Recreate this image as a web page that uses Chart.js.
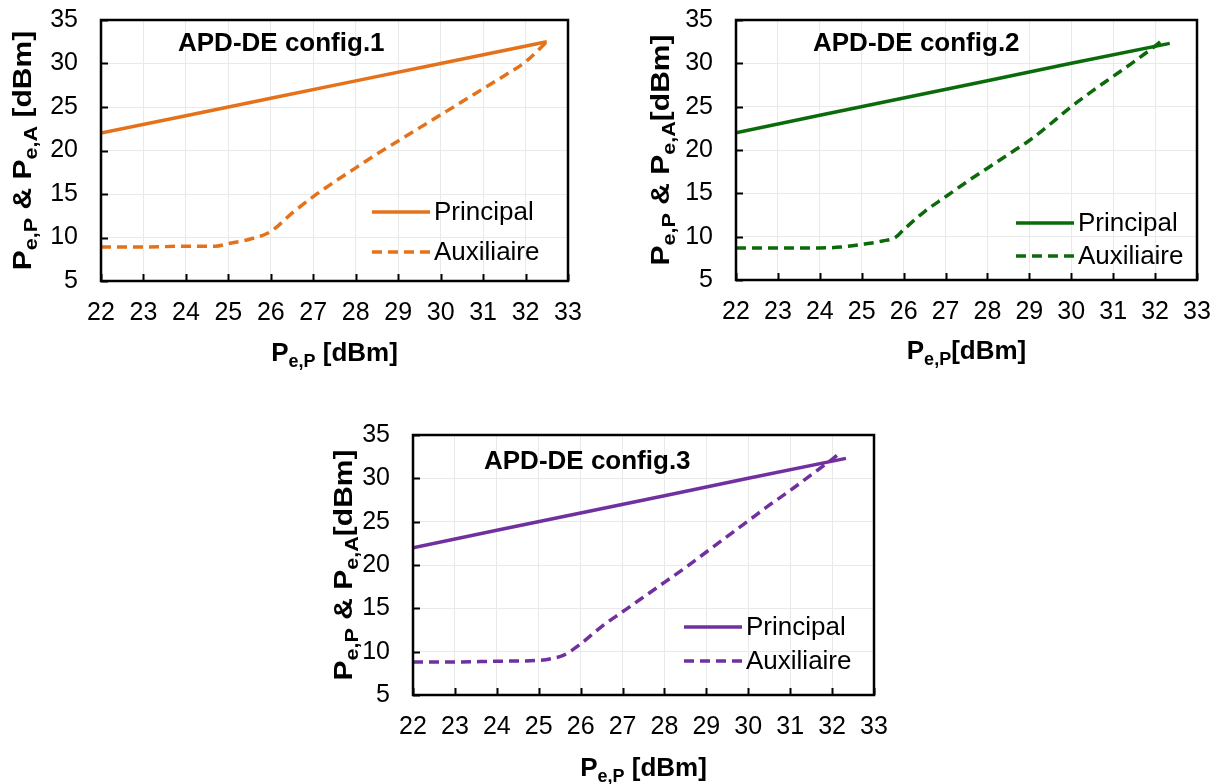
<!DOCTYPE html>
<html>
<head>
<meta charset="utf-8">
<script src="https://cdn.jsdelivr.net/npm/chart.js@4.4.0/dist/chart.umd.min.js"></script>
<style>
  body { margin: 0; background: #fff; }
  #wrap { position: relative; width: 1220px; height: 784px; }
  canvas { position: absolute; }
</style>
</head>
<body>
<div id="wrap">
  <canvas id="c1" width="610" height="380" style="left:0px;top:0px"></canvas>
  <canvas id="c2" width="600" height="380" style="left:620px;top:0px"></canvas>
  <canvas id="c3" width="600" height="384" style="left:310px;top:400px"></canvas>
</div>
<script>
// tick values shared by the three plots
const xTicks = [22, 23, 24, 25, 26, 27, 28, 29, 30, 31, 32, 33];
const yTicks = [5, 10, 15, 20, 25, 30, 35];
const seriesNames = ['Principal', 'Auxiliaire'];
const titles = ['APD-DE config.1', 'APD-DE config.2', 'APD-DE config.3'];

// config.1
const princX1 = [22, 24, 26, 28, 30, 32.5];
const princY1 = [22, 24, 26, 28, 30, 32.5];
const auxX1 = [22, 23, 24, 24.7, 25, 25.5, 26, 26.5, 27, 27.5, 28, 28.5, 29, 29.5, 30, 30.5, 31, 31.5, 32, 32.5];
const auxY1 = [8.9, 8.9, 9.0, 9.0, 9.3, 9.8, 10.7, 12.8, 14.7, 16.4, 18.0, 19.6, 21.1, 22.6, 24.1, 25.6, 27.1, 28.6, 30.2, 32.5];

// config.2
const princX2 = [22, 24, 26, 28, 30, 32.35];
const princY2 = [22, 24, 26, 28, 30, 32.3];
const auxX2 = [22, 23, 24, 24.5, 25, 25.5, 25.8, 26, 26.5, 27, 27.5, 28, 28.5, 29, 29.5, 30, 30.5, 31, 31.5, 32, 32.2];
const auxY2 = [8.7, 8.7, 8.7, 8.8, 9.1, 9.5, 9.9, 10.8, 12.9, 14.6, 16.3, 17.9, 19.5, 21.1, 23.0, 25.0, 26.8, 28.5, 30.2, 32.0, 32.8];

// config.3
const princX3 = [22, 24, 26, 28, 30, 32.33];
const princY3 = [22, 24, 26, 28, 30, 32.3];
const auxX3 = [22, 23, 24, 25, 25.3, 25.6, 26, 26.5, 27, 27.5, 28, 28.5, 29, 29.5, 30, 30.5, 31, 31.5, 32, 32.2];
const auxY3 = [8.8, 8.8, 8.9, 9.0, 9.2, 9.6, 10.9, 12.9, 14.6, 16.3, 18.0, 19.7, 21.5, 23.3, 25.1, 26.9, 28.6, 30.4, 32.2, 33.0];

const FONT = '"Liberation Sans", Arial, sans-serif';

function pts(xs, ys) {
  return xs.map((x, i) => ({ x: x, y: ys[i] }));
}

// text with subscripts, parts = [[text, isSub], ...]
function drawRich(ctx, parts, x, y, size, subSize) {
  let w = 0;
  parts.forEach(p => {
    ctx.font = 'bold ' + (p[1] ? subSize : size) + 'px ' + FONT;
    w += ctx.measureText(p[0]).width;
  });
  let cx = x - w / 2;
  ctx.textAlign = 'left';
  ctx.textBaseline = 'alphabetic';
  parts.forEach(p => {
    ctx.font = 'bold ' + (p[1] ? subSize : size) + 'px ' + FONT;
    ctx.fillText(p[0], cx, y + (p[1] ? 6 : 0));
    cx += ctx.measureText(p[0]).width;
  });
}

const decor = {
  id: 'decor',
  afterDatasetsDraw(chart, args, o) {
    const ctx = chart.ctx;
    const a = chart.chartArea;
    const xs = chart.scales.x, ys = chart.scales.y;
    ctx.save();
    ctx.fillStyle = '#000';
    ctx.strokeStyle = '#000';

    // inner tick marks
    ctx.lineWidth = 2;
    ctx.beginPath();
    xTicks.forEach(v => {
      const px = Math.round(xs.getPixelForValue(v)) + 0.5;
      ctx.moveTo(px, a.bottom);
      ctx.lineTo(px, a.bottom - 7);
    });
    yTicks.forEach(v => {
      const py = Math.round(ys.getPixelForValue(v)) + 0.5;
      ctx.moveTo(a.left, py);
      ctx.lineTo(a.left + 7, py);
    });
    ctx.stroke();

    // frame
    ctx.lineWidth = 2.5;
    ctx.strokeRect(a.left, a.top, a.right - a.left, a.bottom - a.top);

    // title inside the plot
    ctx.font = 'bold 26px ' + FONT;
    ctx.textAlign = 'left';
    ctx.textBaseline = 'alphabetic';
    ctx.fillText(o.title, a.left + o.titleDx, a.top + o.titleDy);

    // legend
    const ds = chart.data.datasets;
    ds.forEach((d, i) => {
      const y = a.bottom - o.legRows[i];
      const x0 = a.right - o.legDx;
      ctx.strokeStyle = d.borderColor;
      ctx.lineWidth = 3.5;
      ctx.setLineDash(d.borderDash || []);
      ctx.beginPath();
      ctx.moveTo(x0, y);
      ctx.lineTo(x0 + 58, y);
      ctx.stroke();
      ctx.setLineDash([]);
      ctx.fillStyle = '#000';
      ctx.font = '26px ' + FONT;
      ctx.textBaseline = 'middle';
      ctx.fillText(d.label, x0 + 62, y + 1);
    });

    // axis titles
    ctx.fillStyle = '#000';
    drawRich(ctx, o.xTitle, (a.left + a.right) / 2, o.xTitleY, 26, 18);
    ctx.translate(a.left - o.yTitleDx, (a.top + a.bottom) / 2);
    ctx.rotate(-Math.PI / 2);
    ctx.scale(1.2, 1);
    drawRich(ctx, o.yTitle, 0, 9, 25, 18);
    ctx.restore();
  }
};

function makeChart(id, color, px, py, ax, ay, box, deco) {
  return new Chart(document.getElementById(id), {
    type: 'line',
    data: {
      datasets: [
        {
          label: seriesNames[0],
          data: pts(px, py),
          borderColor: color,
          borderWidth: 3.5,
          pointRadius: 0,
          tension: 0
        },
        {
          label: seriesNames[1],
          data: pts(ax, ay),
          borderColor: color,
          borderWidth: 3.5,
          borderDash: [10, 6],
          pointRadius: 0,
          cubicInterpolationMode: 'monotone'
        }
      ]
    },
    options: {
      responsive: false,
      animation: false,
      devicePixelRatio: 1,
      layout: { padding: { left: 0, top: box.top, right: box.right, bottom: 0 } },
      plugins: {
        legend: { display: false },
        tooltip: { enabled: false },
        decor: deco
      },
      scales: {
        x: {
          type: 'linear',
          min: 22, max: 33,
          afterBuildTicks: s => { s.ticks = xTicks.map(v => ({ value: v })); },
          afterFit: s => { s.height = box.xh; s.paddingLeft = 0; s.paddingRight = 0; },
          grid: { color: '#e9e9e9', lineWidth: 1, drawTicks: false },
          border: { display: false },
          ticks: { color: '#000', font: { family: FONT, size: 25 }, padding: 17, maxRotation: 0, autoSkip: false }
        },
        y: {
          min: 5, max: 35,
          afterBuildTicks: s => { s.ticks = yTicks.map(v => ({ value: v })); },
          afterFit: s => { s.width = box.yw; s.paddingTop = 0; s.paddingBottom = 0; },
          grid: { color: '#e9e9e9', lineWidth: 1, drawTicks: false },
          border: { display: false },
          ticks: { color: '#000', font: { family: FONT, size: 25 }, padding: 23 }
        }
      }
    },
    plugins: [decor]
  });
}

makeChart('c1', '#E5721A', princX1, princY1, auxX1, auxY1,
  { top: 20, right: 42, yw: 101, xh: 99 },
  { title: titles[0], titleDx: 77, titleDy: 31, legDx: 196, legRows: [69, 29],
    xTitle: [['P', false], ['e,P', true], [' [dBm]', false]], xTitleY: 361,
    yTitle: [['P', false], ['e,P', true], [' & ', false], ['P', false], ['e,A', true], [' [dBm]', false]], yTitleDx: 79 });

makeChart('c2', '#0B6B0B', princX2, princY2, auxX2, auxY2,
  { top: 20, right: 23, yw: 116, xh: 100 },
  { title: titles[1], titleDx: 77, titleDy: 31, legDx: 181, legRows: [57, 24],
    xTitle: [['P', false], ['e,P', true], ['[dBm]', false]], xTitleY: 359,
    yTitle: [['P', false], ['e,P', true], [' & ', false], ['P', false], ['e,A', true], ['[dBm]', false]], yTitleDx: 76 });

makeChart('c3', '#7030A0', princX3, princY3, auxX3, auxY3,
  { top: 35, right: 36, yw: 103, xh: 89 },
  { title: titles[2], titleDx: 71, titleDy: 34, legDx: 190, legRows: [68, 34],
    xTitle: [['P', false], ['e,P', true], [' [dBm]', false]], xTitleY: 376,
    yTitle: [['P', false], ['e,P', true], [' & ', false], ['P', false], ['e,A', true], ['[dBm]', false]], yTitleDx: 70 });
</script>
</body>
</html>
